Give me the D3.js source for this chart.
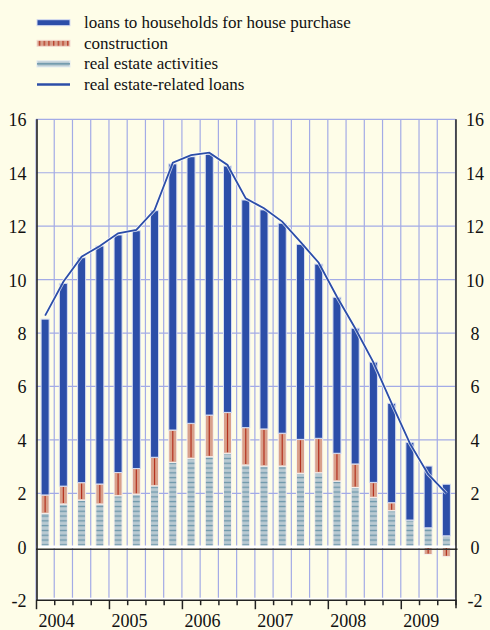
<!DOCTYPE html>
<html>
<head>
<meta charset="utf-8">
<script src="https://cdn.jsdelivr.net/npm/d3@7/dist/d3.min.js"></script>
<style>
  body { margin: 0; background: #fefde8; }
  svg text { fill: #111; }
</style>
</head>
<body>
<script>

// quarterly data, 2004 Q1 - 2009 Q3
var quarters = ["2004Q1","2004Q2","2004Q3","2004Q4","2005Q1","2005Q2","2005Q3","2005Q4",
                "2006Q1","2006Q2","2006Q3","2006Q4","2007Q1","2007Q2","2007Q3","2007Q4",
                "2008Q1","2008Q2","2008Q3","2008Q4","2009Q1","2009Q2","2009Q3"];
var years = ["2004","2005","2006","2007","2008","2009"];

var realEstateActivities = [1.25,1.60,1.75,1.60,1.91,1.97,2.28,3.16,3.31,3.37,3.50,3.06,
                            3.02,3.02,2.75,2.77,2.46,2.22,1.85,1.35,1.00,0.71,0.41];
var construction = [0.69,0.67,0.65,0.75,0.87,0.96,1.07,1.21,1.31,1.56,1.53,1.40,
                    1.39,1.23,1.27,1.29,1.04,0.88,0.56,0.30,-0.06,-0.29,-0.37];
var householdLoans = [6.58,7.59,8.42,8.91,8.89,8.90,9.23,9.96,9.98,9.77,9.22,8.52,
                      8.20,7.86,7.30,6.52,5.84,5.08,4.50,3.72,2.91,2.31,1.93];
var realEstateLoans = [8.65,9.92,10.86,11.26,11.73,11.86,12.60,14.38,14.66,14.75,14.29,13.04,
                       12.67,12.17,11.41,10.63,9.36,8.18,6.90,5.37,3.87,2.72,2.00];
var yTicks = [-2,0,2,4,6,8,10,12,14,16];

var legendItems = ["loans to households for house purchase", "construction",
                   "real estate activities", "real estate-related loans"];

var width = 490, height = 630;
var plotLeft = 36, plotRight = 455.5, plotTop = 119.3, plotBottom = 600.2;
var font = "'Liberation Serif', 'DejaVu Serif', serif";

var blue = "#2c4ea8", salmon = "#d8a08b", red = "#b4321f",
    reaFill = "#b9cad2", reaStripe = "#6d97aa", grid = "#a3abe6";

var x = d3.scaleBand().domain(quarters).range([plotLeft, plotRight])
    .paddingInner(0.56).paddingOuter(0.28);
var y = d3.scaleLinear().domain([-2, 16]).range([plotBottom, plotTop]);

var rows = quarters.map(function(q, i) {
  return { q: q, rea: realEstateActivities[i], con: construction[i], hh: householdLoans[i] };
});
var series = d3.stack().keys(["rea", "con", "hh"]).offset(d3.stackOffsetDiverging)(rows);

var svg = d3.select("body").append("svg")
    .attr("width", width).attr("height", height)
    .attr("font-family", font);

var defs = svg.append("defs");
var p = defs.append("pattern").attr("id", "rea").attr("patternUnits", "userSpaceOnUse")
    .attr("width", 8).attr("height", 4.8);
p.append("rect").attr("width", 8).attr("height", 4.8).attr("fill", reaFill);
p.append("rect").attr("y", 1.8).attr("width", 8).attr("height", 1.3).attr("fill", reaStripe);

var pc = defs.append("pattern").attr("id", "con").attr("patternUnits", "userSpaceOnUse")
    .attr("width", 4.7).attr("height", 8);
pc.append("rect").attr("width", 4.7).attr("height", 8).attr("fill", salmon);
pc.append("rect").attr("x", 2).attr("width", 1.2).attr("height", 8).attr("fill", red);

// grid
var gap = x.step() - x.bandwidth();
var bounds = d3.range(quarters.length + 1).map(function(i) {
  return i < quarters.length ? x(quarters[i]) - gap / 2 : plotRight;
});

svg.append("g").selectAll("line").data(yTicks.filter(function(d) { return d > 0; }))
  .enter().append("line")
    .attr("x1", plotLeft).attr("x2", plotRight)
    .attr("y1", function(d) { return y(d); }).attr("y2", function(d) { return y(d); })
    .attr("stroke", grid).attr("stroke-width", 1.2);

svg.append("g").selectAll("line").data(bounds)
  .enter().append("line")
    .attr("x1", function(d) { return d; }).attr("x2", function(d) { return d; })
    .attr("y1", plotTop).attr("y2", plotBottom)
    .attr("stroke", grid).attr("stroke-width", 1.2);

// bars
var fills = { rea: "url(#rea)", con: salmon, hh: blue };
var layers = svg.append("g").selectAll("g").data(series).enter().append("g");

layers.selectAll("rect").data(function(s) { return s.map(function(d) { d.key = s.key; return d; }); })
  .enter().append("rect")
    .attr("x", function(d) { return x(d.data.q); })
    .attr("width", x.bandwidth())
    .attr("y", function(d) { return y(d[1]); })
    .attr("height", function(d) { return Math.max(0, y(d[0]) - y(d[1])); })
    .attr("fill", function(d) { return fills[d.key]; })
    .attr("stroke", function(d) { return d.key == "hh" ? "#d6dcf2" : "#f7f1ee"; })
    .attr("stroke-width", 1);

// red line in the middle of the construction part
svg.append("g").selectAll("line").data(series[1])
  .enter().append("line")
    .attr("x1", function(d) { return x(d.data.q) + x.bandwidth() / 2; })
    .attr("x2", function(d) { return x(d.data.q) + x.bandwidth() / 2; })
    .attr("y1", function(d) { return y(d[0]) - 1; })
    .attr("y2", function(d) { return y(d[1]) + 1; })
    .attr("stroke", red).attr("stroke-width", 1.2);

// zero line and bottom axis
svg.append("line").attr("x1", plotLeft).attr("x2", plotRight + 2)
    .attr("y1", y(0)).attr("y2", y(0)).attr("stroke", "#fff").attr("stroke-width", 2.5);
svg.append("line").attr("x1", plotLeft).attr("x2", plotRight + 2)
    .attr("y1", y(0) + 2.5).attr("y2", y(0) + 2.5).attr("stroke", "#333").attr("stroke-width", 1.3);

svg.append("line").attr("x1", plotLeft).attr("x2", plotRight)
    .attr("y1", y(-2) - 1.5).attr("y2", y(-2) - 1.5).attr("stroke", "#fff").attr("stroke-width", 2);
svg.append("line").attr("x1", plotLeft).attr("x2", plotRight + 1)
    .attr("y1", y(-2)).attr("y2", y(-2)).attr("stroke", "#222").attr("stroke-width", 1.5);

svg.append("g").selectAll("line").data(bounds)
  .enter().append("line")
    .attr("x1", function(d) { return d + 0.5; }).attr("x2", function(d) { return d + 0.5; })
    .attr("y1", y(-2)).attr("y2", function(d, i) { return y(-2) + (i % 4 == 0 ? 9 : 5); })
    .attr("stroke", "#222").attr("stroke-width", 1.5);

// side axes
svg.append("line").attr("x1", plotLeft + 1).attr("x2", plotLeft + 1)
    .attr("y1", plotTop).attr("y2", plotBottom).attr("stroke", "#222").attr("stroke-width", 1.6);
svg.append("line").attr("x1", plotRight + 0.5).attr("x2", plotRight + 0.5)
    .attr("y1", plotTop).attr("y2", plotBottom + 8).attr("stroke", "#222").attr("stroke-width", 1.5);

svg.append("g").selectAll("text").data(yTicks).enter().append("text")
    .attr("x", 26.5).attr("y", function(d) { return y(d) + 7; })
    .attr("text-anchor", "end").attr("font-size", 18)
    .text(function(d) { return d; });
svg.append("g").selectAll("text").data(yTicks).enter().append("text")
    .attr("x", 475).attr("y", function(d) { return y(d) + 7; })
    .attr("text-anchor", "middle").attr("font-size", 18)
    .text(function(d) { return d; });

svg.append("g").selectAll("text").data(years).enter().append("text")
    .attr("x", function(d) { return x(d + "Q1") - gap / 2 + 2.5; })
    .attr("y", 627)
    .attr("font-size", 18)
    .text(function(d) { return d; });

// real estate-related loans line
var line = d3.line()
    .x(function(d, i) { return x(quarters[i]) + x.bandwidth() / 2; })
    .y(function(d) { return y(d); });
svg.append("path").datum(realEstateLoans).attr("d", line)
    .attr("fill", "none").attr("stroke", "#fff").attr("stroke-opacity", 0.7).attr("stroke-width", 3.5);
svg.append("path").datum(realEstateLoans).attr("d", line)
    .attr("fill", "none").attr("stroke", blue).attr("stroke-width", 1.8);

// legend
var legend = svg.append("g").selectAll("g").data(legendItems).enter().append("g")
    .attr("transform", function(d, i) { return "translate(37," + (22.7 + i * 20.6) + ")"; });

legend.append("text").attr("x", 47).attr("y", 5.5).attr("font-size", 17)
    .text(function(d) { return d; });

legend.filter(function(d, i) { return i == 0; }).append("rect")
    .attr("y", -3).attr("width", 33).attr("height", 6).attr("fill", blue)
    .attr("stroke", "#d6dcf2").attr("stroke-width", 1);
legend.filter(function(d, i) { return i == 1; }).append("rect")
    .attr("y", -3).attr("width", 33).attr("height", 6).attr("fill", "url(#con)")
    .attr("stroke", "#f4dcd2").attr("stroke-width", 1);
legend.filter(function(d, i) { return i == 2; }).append("rect")
    .attr("y", -3).attr("width", 33).attr("height", 6).attr("fill", reaFill)
    .attr("stroke", "#e2eaf0").attr("stroke-width", 1);
legend.filter(function(d, i) { return i == 2; }).append("rect")
    .attr("y", -0.8).attr("width", 33).attr("height", 1.5).attr("fill", reaStripe);
legend.filter(function(d, i) { return i == 3; }).append("line")
    .attr("x2", 33).attr("stroke", blue).attr("stroke-width", 2.5);

</script>
</body>
</html>
